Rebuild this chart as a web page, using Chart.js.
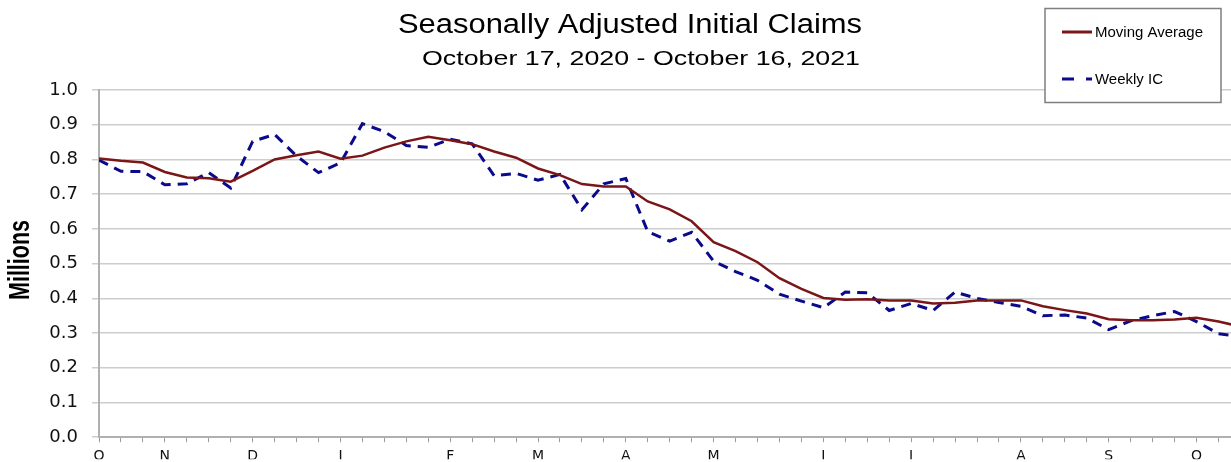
<!DOCTYPE html>
<html>
<head>
<meta charset="utf-8">
<script src="https://cdn.jsdelivr.net/npm/chart.js@4.4.1/dist/chart.umd.min.js"></script>
<style>
  html, body { margin: 0; padding: 0; background: #ffffff; }
  #wrap { width: 1231px; height: 462px; position: relative; }
</style>
</head>
<body>
<div id="wrap"><canvas id="c" width="1231" height="462"></canvas></div>
<script>
// ---- data (millions) ----
const weeks = [
  '2020-10-17','2020-10-24','2020-10-31','2020-11-07','2020-11-14','2020-11-21','2020-11-28',
  '2020-12-05','2020-12-12','2020-12-19','2020-12-26',
  '2021-01-02','2021-01-09','2021-01-16','2021-01-23','2021-01-30',
  '2021-02-06','2021-02-13','2021-02-20','2021-02-27',
  '2021-03-06','2021-03-13','2021-03-20','2021-03-27',
  '2021-04-03','2021-04-10','2021-04-17','2021-04-24',
  '2021-05-01','2021-05-08','2021-05-15','2021-05-22','2021-05-29',
  '2021-06-05','2021-06-12','2021-06-19','2021-06-26',
  '2021-07-03','2021-07-10','2021-07-17','2021-07-24','2021-07-31',
  '2021-08-07','2021-08-14','2021-08-21','2021-08-28',
  '2021-09-04','2021-09-11','2021-09-18','2021-09-25',
  '2021-10-02','2021-10-09','2021-10-16'
];
const movingAverage = [
  0.803,0.796,0.791,0.764,0.748,0.746,0.736,0.767,0.800,0.812,0.823,
  0.802,0.811,0.834,0.852,0.865,0.855,0.844,0.823,0.805,0.774,0.755,
  0.729,0.722,0.722,0.679,0.656,0.622,0.562,0.536,0.504,0.458,0.427,
  0.401,0.396,0.397,0.394,0.394,0.385,0.387,0.394,0.394,0.394,0.377,
  0.366,0.356,0.340,0.337,0.337,0.339,0.344,0.333,0.319
];
const weeklyIC = [
  0.798,0.766,0.765,0.727,0.730,0.762,0.718,0.852,0.872,0.810,0.762,
  0.790,0.903,0.880,0.840,0.835,0.858,0.845,0.753,0.760,0.740,0.757,
  0.655,0.730,0.745,0.592,0.565,0.590,0.507,0.477,0.452,0.412,0.392,
  0.373,0.418,0.416,0.365,0.385,0.365,0.418,0.400,0.388,0.377,0.350,
  0.352,0.343,0.310,0.335,0.350,0.362,0.333,0.298,0.290
];
const monthInitials = ['J','F','M','A','M','J','J','A','S','O','N','D'];
const seriesNames = ['Moving Average', 'Weekly IC'];
const titleText = 'Seasonally Adjusted Initial Claims';
const subtitleText = 'October 17, 2020 - October 16, 2021';
const yAxisTitle = 'Millions';

// month letter at the first week of each month
const tickLabels = weeks.map((w, i) => {
  const m = +w.slice(5, 7);
  const pm = i ? +weeks[i - 1].slice(5, 7) : -1;
  return m !== pm ? monthInitials[m - 1] : '';
});

const X_MAX = 51.57;
const MA_COLOR = '#7a1518';
const IC_COLOR = '#0a0a8a';

function drawScaledText(ctx, text, font, x0, x1, baseline) {
  ctx.save();
  ctx.font = font;
  const w = ctx.measureText(text).width;
  ctx.translate(x0, baseline);
  ctx.scale((x1 - x0) / w, 1);
  ctx.textAlign = 'left';
  ctx.textBaseline = 'alphabetic';
  ctx.fillText(text, 0, 0);
  ctx.restore();
}

const decor = {
  id: 'decor',
  beforeDraw(chart) {
    const ctx = chart.ctx;
    ctx.save();
    ctx.fillStyle = '#ffffff';
    ctx.fillRect(0, 0, chart.width, chart.height);
    ctx.restore();
  },
  afterDraw(chart) {
    const ctx = chart.ctx;
    ctx.save();
    ctx.fillStyle = '#000000';
    drawScaledText(ctx, titleText, '27px "Liberation Sans", Arial, sans-serif', 398, 862, 33);
    drawScaledText(ctx, subtitleText, '20px "Liberation Sans", Arial, sans-serif', 422, 860, 65);

    // y axis title (rotated)
    ctx.save();
    ctx.font = 'bold 29px "Liberation Sans", Arial, sans-serif';
    const mw = ctx.measureText(yAxisTitle).width;
    ctx.translate(29, 260);
    ctx.rotate(-Math.PI / 2);
    ctx.scale(80 / mw, 1);
    ctx.textAlign = 'center';
    ctx.textBaseline = 'alphabetic';
    ctx.fillText(yAxisTitle, 0, 0);
    ctx.restore();

    // legend box
    ctx.fillStyle = '#ffffff';
    ctx.fillRect(1045, 8, 176, 94);
    ctx.strokeStyle = '#7f7f7f';
    ctx.lineWidth = 1.5;
    ctx.strokeRect(1045, 8.5, 176, 94);

    ctx.lineWidth = 3;
    ctx.strokeStyle = MA_COLOR;
    ctx.beginPath(); ctx.moveTo(1062, 32); ctx.lineTo(1092, 32); ctx.stroke();
    ctx.strokeStyle = IC_COLOR;
    ctx.setLineDash([12, 12]);
    ctx.beginPath(); ctx.moveTo(1062, 79); ctx.lineTo(1092, 79); ctx.stroke();
    ctx.setLineDash([]);

    ctx.fillStyle = '#000000';
    drawScaledText(ctx, seriesNames[0], '14px "Liberation Sans", Arial, sans-serif', 1095, 1203, 37);
    drawScaledText(ctx, seriesNames[1], '14px "Liberation Sans", Arial, sans-serif', 1095, 1163, 84);
    ctx.restore();
  }
};

new Chart(document.getElementById('c'), {
  type: 'line',
  data: {
    datasets: [
      {
        label: seriesNames[0],
        data: movingAverage.map((v, i) => ({ x: i, y: v })),
        borderColor: MA_COLOR,
        borderWidth: 2.5,
        pointRadius: 0,
        tension: 0,
        order: 0
      },
      {
        label: seriesNames[1],
        data: weeklyIC.map((v, i) => ({ x: i, y: v })),
        borderColor: IC_COLOR,
        borderWidth: 3,
        borderDash: [10, 7],
        pointRadius: 0,
        tension: 0,
        order: 1
      }
    ]
  },
  options: {
    responsive: false,
    devicePixelRatio: 1,
    animation: false,
    layout: { padding: { top: 90, right: 0, bottom: 0, left: 0 } },
    plugins: {
      legend: { display: false },
      tooltip: { enabled: false },
      title: { display: false }
    },
    scales: {
      x: {
        type: 'linear',
        min: 0,
        max: X_MAX,
        afterBuildTicks: (s) => {
          s.ticks = weeks.map((_, i) => ({ value: i })).filter(t => t.value <= X_MAX);
        },
        afterFit: (s) => { s.height = 22; },
        ticks: {
          autoSkip: false,
          maxRotation: 0,
          minRotation: 0,
          padding: 6,
          color: '#111111',
          font: { family: '"DejaVu Sans", sans-serif', size: 14 },
          callback: (v) => tickLabels[Math.round(v)] || ''
        },
        grid: { drawOnChartArea: false, drawTicks: true, tickLength: 5, color: '#9a9a9a', lineWidth: 1 },
        border: { display: true, color: '#b0b0b0', width: 2 }
      },
      y: {
        min: 0,
        max: 1,
        afterFit: (s) => { s.width = 99; },
        ticks: {
          stepSize: 0.1,
          padding: 14,
          color: '#111111',
          font: { family: '"DejaVu Sans", sans-serif', size: 18 },
          callback: (v) => v.toFixed(1)
        },
        grid: { color: '#cdcdcd', lineWidth: 1.5, tickLength: 7 },
        border: { display: true, color: '#b0b0b0', width: 2 }
      }
    }
  },
  plugins: [decor]
});
</script>
</body>
</html>
